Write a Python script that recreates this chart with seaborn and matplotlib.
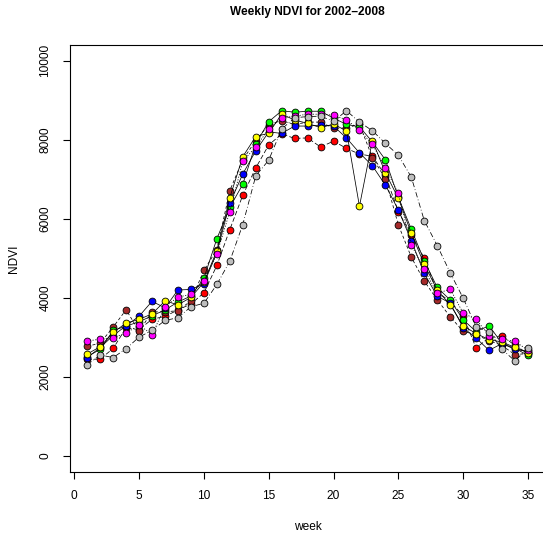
import matplotlib
matplotlib.use("Agg")
import matplotlib.pyplot as plt
import seaborn as sns
import pandas as pd
import numpy as np

weeks = list(range(1, 36))
years = ["2002", "2003", "2004", "2005", "2006", "2007", "2008"]
colors = ["#FF0000", "#A52A2A", "#00FF00", "#0000FF", "#FFFF00", "#FF00FF", "#BEBEBE"]

ndvi_2002 = [2450, 2455, 2725, 3250, 3200, 3465, 3535, 3700, 3850, 4130,
             4823, 5732, 6599, 7290, 7871, 8150, 8038, 8050, 7820, 7968,
             7786, 7640, 7588, 7100, 6187, 5600, 5010, 4150, 3914, 3550,
             2735, 3000, 3047, 2800, 2600]
ndvi_2003 = [2778, 2860, 3266, 3704, 3157, 3650, 3650, 3680, 3930, 4700,
             5227, 6717, 7500, 7980, 8384, 8485, 8390, 8450, 8450, 8295,
             8300, 8400, 7550, 7020, 5851, 5033, 4428, 3956, 3527, 3157,
             3073, 2922, 2800, 2567, 2600]
ndvi_2004 = [2520, 2700, 3180, 3290, 3400, 3550, 3700, 3900, 4050, 4500,
             5500, 6296, 6877, 7900, 8460, 8737, 8700, 8725, 8725, 8550,
             8392, 8330, 7950, 7496, 6550, 5741, 4941, 4268, 3950, 3451,
             3150, 3300, 2850, 2727, 2550]
ndvi_2005 = [2490, 2750, 3050, 3300, 3540, 3918, 3750, 4204, 4217, 4361,
             5150, 6400, 7138, 7723, 8200, 8165, 8350, 8350, 8375, 8350,
             8047, 7673, 7344, 6856, 6230, 5455, 4621, 4050, 3870, 3250,
             2988, 2677, 2850, 2700, 2650]
ndvi_2006 = [2583, 2770, 3131, 3367, 3460, 3600, 3926, 3830, 4015, 4400,
             5200, 6540, 7576, 8085, 8169, 8653, 8500, 8420, 8308, 8400,
             8225, 6321, 7984, 7168, 6523, 5640, 4850, 4200, 3830, 3300,
             3100, 2950, 2887, 2750, 2619]
ndvi_2007 = [2915, 2958, 2997, 3110, 3320, 3075, 3785, 4023, 4095, 4440,
             5118, 6187, 7458, 7822, 8274, 8552, 8600, 8650, 8650, 8625,
             8510, 8250, 7887, 7285, 6645, 5345, 4722, 4116, 4226, 3619,
             3460, 3050, 2955, 2904, 2680]
ndvi_2008 = [2315, 2558, 2495, 2719, 3013, 3182, 3434, 3502, 3780, 3868,
             4343, 4932, 5859, 7088, 7488, 8274, 8560, 8590, 8600, 8470,
             8737, 8450, 8232, 7912, 7613, 7058, 5960, 5328, 4639, 3998,
             3275, 3149, 2702, 2407, 2735]

series = [ndvi_2002, ndvi_2003, ndvi_2004, ndvi_2005, ndvi_2006, ndvi_2007, ndvi_2008]
dash_styles = [(6, 3), (4, 3), "", "", "", (1.5, 2), (7, 3, 1, 3)]

rows = []
for y, vals in zip(years, series):
    for w, v in zip(weeks, vals):
        rows.append({"week": w, "NDVI": v, "year": y})
df = pd.DataFrame(rows)

sns.set_style("white")
plt.rcParams["font.family"] = ["Liberation Sans", "DejaVu Sans"]
plt.rcParams["text.color"] = "black"
plt.rcParams["axes.labelcolor"] = "black"

fig = plt.figure(figsize=(5.43, 5.43), dpi=100)
ax = fig.add_axes([69.6 / 543, 71 / 543, 476 / 543, 427 / 543])

for i, (y, c, d) in enumerate(zip(years, colors, dash_styles)):
    sub = df[df["year"] == y]
    sns.lineplot(data=sub, x="week", y="NDVI", color="black", linewidth=0.55,
                 ax=ax, legend=False, zorder=2 + 2 * i, estimator=None, sort=False)
    line = ax.lines[-1]
    if d != "":
        line.set_dashes(d)
    sns.scatterplot(data=sub, x="week", y="NDVI", color=c, edgecolor="black",
                    linewidth=0.6, s=24, ax=ax, legend=False, zorder=3 + 2 * i)

ax.set_xlim(-0.36, 36.36)
ax.set_ylim(-400, 10400)
ax.set_xticks(range(0, 36, 5))
ax.set_yticks(range(0, 10001, 2000))
ax.set_yticklabels([str(v) for v in range(0, 10001, 2000)], rotation=90, va="center")
ax.tick_params(axis="both", direction="out", length=5, width=0.8, labelsize=8.6,
               pad=8, bottom=True, left=True, colors="black")
for s in ax.spines.values():
    s.set_color("black")
    s.set_linewidth(0.8)
ax.set_xlabel("week", fontsize=8.6, labelpad=14)
ax.set_ylabel("NDVI", fontsize=8.6, labelpad=14)
fig.text(307 / 543, 1 - 12 / 543, "Weekly NDVI for 2002\u20132008", ha="center", va="center",
         fontsize=8.6, fontweight="bold")

fig.savefig("out.png", dpi=100)
